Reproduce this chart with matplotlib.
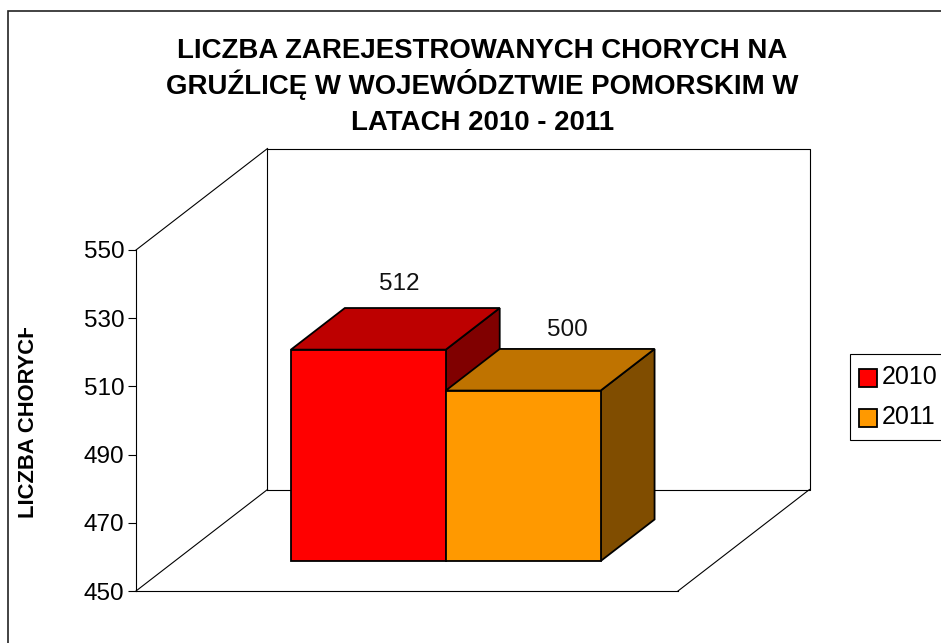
import matplotlib
matplotlib.use('Agg')
import matplotlib.pyplot as plt
from matplotlib.patches import Polygon, Rectangle, Patch
from matplotlib.transforms import Affine2D, Bbox, IdentityTransform

plt.rcParams['font.family'] = ['Liberation Sans', 'DejaVu Sans']

# Data
years = ['2010', '2011']
patients = [512, 500]
y_ticks = [450, 470, 490, 510, 530, 550]
front_colors = ['#FF0000', '#FF9900']
top_colors = ['#BD0000', '#BF7300']
side_colors = ['#800000', '#804D00']

title_lines = ['LICZBA ZAREJESTROWANYCH CHORYCH NA', 'GRUŹLICĘ W WOJEWÓDZTWIE POMORSKIM W', 'LATACH 2010 - 2011']
y_title = 'LICZBA CHORYCH'

W, H = 941, 643
fig = plt.figure(figsize=(W / 100, H / 100), dpi=100, facecolor='white')
pixels = IdentityTransform()

# outer chart frame, right and bottom sides fall outside the image
fig.add_artist(Rectangle((7.5, -10), W + 20, H - 10.5 + 10, transform=pixels, fill=False,
                         edgecolor='#222222', linewidth=1.2))

# the axes is the front plane of the 3D box
ax = fig.add_axes([136 / W, (H - 591) / H, 542 / W, 341 / H])
ax.set_xlim(-1.25, 2.25)
ax.set_ylim(y_ticks[0], y_ticks[-1])
ax.patch.set_visible(False)
for side in ['top', 'right']:
    ax.spines[side].set_visible(False)
for side in ['left', 'bottom']:
    ax.spines[side].set_linewidth(0.8)
ax.set_xticks([])
ax.set_yticks(y_ticks)
ax.tick_params(axis='y', length=5.8, width=0.8, pad=2.5, labelsize=17.5)

DEPTH_X, DEPTH_Y = 131.5, 101.5


def at_depth(d):
    # oblique projection: move back by a share of the full box depth
    return ax.transData + Affine2D().translate(d * DEPTH_X, d * DEPTH_Y)


x0, x1 = ax.get_xlim()
y0, y1 = ax.get_ylim()

# back wall and the three edges that join it to the front plane
back = at_depth(1)
ax.plot([x0, x0, x1, x1, x0], [y0, y1, y1, y0, y0], color='black', lw=0.8, transform=back, clip_on=False)
for x, y in [(x0, y0), (x0, y1), (x1, y0)]:
    start = ax.transData.transform((x, y))
    end = back.transform((x, y))
    ax.plot([start[0], end[0]], [start[1], end[1]], color='black', lw=0.8, transform=pixels, clip_on=False)

# bars
FRONT, BACK = 0.295, 0.705
for i, value in enumerate(patients):
    left, right = i - 0.5, i + 0.5
    tf, tb = at_depth(FRONT), at_depth(BACK)
    side = [tf.transform((right, y0)), tb.transform((right, y0)), tb.transform((right, value)), tf.transform((right, value))]
    top = [tf.transform((left, value)), tb.transform((left, value)), tb.transform((right, value)), tf.transform((right, value))]
    ax.add_patch(Polygon(side, closed=True, facecolor=side_colors[i], edgecolor='black', lw=1.3,
                         transform=pixels, clip_on=False, joinstyle='miter', zorder=3 + i))
    ax.add_patch(Polygon(top, closed=True, facecolor=top_colors[i], edgecolor='black', lw=1.3,
                         transform=pixels, clip_on=False, joinstyle='miter', zorder=3 + i))
    ax.bar(i, value - y0, width=1.0, bottom=y0, color=front_colors[i], edgecolor='black', linewidth=1.3,
           transform=tf, clip_on=False, zorder=3 + i)

# value labels
label_dx = [31, 44]
label_dy = [66, 61]
for i, value in enumerate(patients):
    px = at_depth(FRONT).transform((i, value))
    ax.text(px[0] + label_dx[i], px[1] + label_dy[i], str(value), transform=pixels, ha='center', va='center',
            fontsize=17.5, color='#111111', zorder=8, clip_on=False)

# title, one text per line so the baselines stay evenly spaced
title_base = [58, 94, 130]
for line, base in zip(title_lines, title_base):
    fig.text(482.5 / W, 1 - base / H, line, ha='center', va='baseline', fontsize=19.9, fontweight='bold', color='black')

# y axis title, cut off at its top like in the original
lab = fig.text(29 / W, 1 - 518 / H, y_title, rotation=90, ha='center', va='bottom', fontsize=15.8,
               fontweight='bold', color='black')
lab.set_clip_box(Bbox.from_extents(0, 0, W, H - 328))
lab.set_clip_on(True)

# legend
handles = [Patch(facecolor=c, edgecolor='black', linewidth=1.3) for c in front_colors]
leg = fig.legend(handles, years, loc='upper left', bbox_to_anchor=(850 / W, 1 - 354 / H), borderaxespad=0,
                 fontsize=18, frameon=True, fancybox=False, edgecolor='black', framealpha=1,
                 handlelength=0.72, handleheight=0.72, handletextpad=0.13, borderpad=0.43, labelspacing=0.64)
leg.get_frame().set_linewidth(0.8)
for patch in leg.get_patches():
    patch.set_x(patch.get_x() - 1)
    patch.set_y(patch.get_y() - 2)

plt.savefig('out.png', dpi=100)
